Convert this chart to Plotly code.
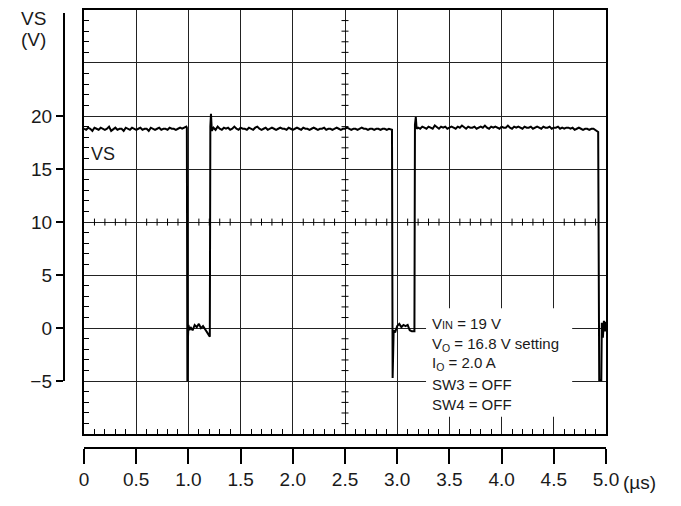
import numpy as np
import plotly.graph_objects as go

# page is 681x506; the html body keeps its default 8px margin
PAGE_W, PAGE_H = 681, 506
OFF = 8
W, H = PAGE_W - 2 * OFF, PAGE_H - 2 * OFF

# ---------------- data ----------------
x_tick_vals = [0, 0.5, 1.0, 1.5, 2.0, 2.5, 3.0, 3.5, 4.0, 4.5, 5.0]
x_tick_text = ["0", "0.5", "1.0", "1.5", "2.0", "2.5", "3.0", "3.5", "4.0", "4.5", "5.0"]
y_tick_vals = [-5, 0, 5, 10, 15, 20]
y_tick_text = ["\u22125", "0", "5", "10", "15", "20"]

# high level segment 1: sampled every 0.02 us from 0.00
hi1_v = [18.8, 18.7, 18.9, 18.8, 18.6, 18.9, 18.8, 18.7, 18.9, 18.8,
         18.7, 18.8, 19.0, 18.6, 18.8, 18.9, 18.7, 18.8, 18.8, 18.6,
         18.9, 18.8, 18.7, 18.9, 18.8, 18.7, 18.8, 18.9, 18.7, 18.8,
         18.8, 18.6, 18.9, 18.8, 18.7, 18.8, 18.9, 18.7, 18.8, 18.8,
         18.7, 18.9, 18.8, 18.8, 18.7, 18.8, 18.9, 18.8, 18.9, 19.0]
edge1_t = [0.985, 0.990, 0.992, 0.996, 1.000, 1.010]
edge1_v = [18.9, -5.0, 2.0, -0.8, 0.3, -0.2]
# low level segment 1: every 0.02 us from 1.02
lo1_v = [0.1, -0.2, 0.3, 0.1, 0.4, 0.0, 0.2, -0.1, -0.3, -0.7]
edge2_t = [1.205, 1.210, 1.216, 1.224]
edge2_v = [-0.8, 19.0, 20.2, 18.6]
# high level segment 2: every 0.02 us from 1.24
hi2_v = [18.9, 18.7, 19.0, 18.8, 18.7, 18.9, 18.8, 18.9, 18.7, 18.8,
         19.0, 18.8, 18.7, 18.9, 18.8, 18.8, 18.7, 18.9, 18.8, 18.7,
         18.9, 19.0, 18.8, 18.7, 18.8, 18.9, 18.7, 18.8, 18.9, 18.8,
         18.7, 18.8, 18.9, 18.8, 18.8, 18.7, 18.9, 18.8, 18.7, 18.8,
         18.9, 18.8, 18.7, 18.9, 18.8, 18.8, 18.7, 18.8, 18.9, 18.8,
         18.7, 18.8, 18.8, 18.9, 18.7, 18.8, 18.8, 18.7, 18.8, 18.9,
         18.8, 18.7, 18.8, 18.8, 18.9, 18.8, 18.7, 18.8, 18.8, 18.7,
         18.8, 18.9, 18.8, 18.8, 18.7, 18.8, 18.8, 18.7, 18.8, 18.8,
         18.7, 18.8, 18.8, 18.7, 18.8, 18.7]
edge3_t = [2.950, 2.956, 2.961, 2.966]
edge3_v = [18.7, -4.7, -0.6, -0.2]
# low level segment 2: every 0.02 us from 2.98
lo2_v = [-0.4, 0.2, 0.4, 0.1, 0.3, 0.2, 0.3, -0.2, -0.3, -0.35]
edge4_t = [3.165, 3.170, 3.178, 3.186]
edge4_v = [-0.3, 19.2, 19.9, 18.8]
# high level segment 3: every 0.02 us from 3.20
hi3_v = [18.9, 18.8, 19.0, 18.9, 18.8, 19.0, 18.9, 18.8, 19.1, 18.9,
         18.8, 19.0, 18.9, 19.0, 18.8, 18.9, 19.0, 18.9, 18.8, 19.0,
         18.9, 19.1, 18.9, 18.8, 19.0, 18.9, 18.9, 19.0, 18.8, 18.9,
         19.0, 18.9, 19.1, 18.9, 18.8, 19.0, 18.9, 19.0, 18.9, 18.8,
         19.0, 18.9, 18.9, 19.1, 18.9, 18.8, 19.0, 18.9, 19.0, 18.9,
         18.8, 19.0, 18.9, 18.9, 19.0, 18.8, 18.9, 19.0, 18.9, 18.8,
         19.0, 18.9, 18.9, 19.0, 18.8, 18.9, 18.9, 19.0, 18.8, 18.9,
         18.8, 18.9, 18.9, 18.8, 18.9, 18.7, 18.8, 18.9, 18.8, 18.7,
         18.8, 18.8, 18.7, 18.8, 18.8, 18.7]
edge5_t = [4.915, 4.925, 4.935, 4.955, 4.960, 4.970, 4.980, 4.990, 5.000]
edge5_v = [18.6, 18.5, -4.9, -4.9, 0.5, -0.9, 0.7, -0.3, 0.6]

note_lines = ["V<span style='font-size:11px'>IN</span> = 19 V",
              "V<sub>O</sub> = 16.8 V setting",
              "I<sub>O</sub> = 2.0 A",
              "SW3 = OFF",
              "SW4 = OFF"]


def grid(start, n, step=0.02):
    return list(np.round(start + step * np.arange(n), 4))


t = (grid(0.0, len(hi1_v)) + edge1_t + grid(1.02, len(lo1_v)) + edge2_t +
     grid(1.24, len(hi2_v)) + edge3_t + grid(2.98, len(lo2_v)) + edge4_t +
     grid(3.20, len(hi3_v)) + edge5_t)
v = hi1_v + edge1_v + lo1_v + edge2_v + hi2_v + edge3_v + lo2_v + edge4_v + hi3_v + edge5_v

minor_x = [round(0.1 * i, 2) for i in range(51) if i % 5 != 0]
minor_y = [i for i in range(-10, 31) if i % 5 != 0]


def fx(px):
    return (px - OFF) / W


def fy(py):
    return 1 - (py - OFF) / H


FONT = "Liberation Sans, Arial, Helvetica, sans-serif"
TXT = "#1a1a1a"

fig = go.Figure()
# centre-line cross ticks
fig.add_trace(go.Scatter(x=minor_x, y=[10] * len(minor_x), mode="markers",
                         marker=dict(symbol="line-ns-open", size=5, color="black",
                                     line=dict(color="black", width=1)),
                         hoverinfo="skip", showlegend=False))
fig.add_trace(go.Scatter(x=[2.5] * len(minor_y), y=minor_y, mode="markers",
                         marker=dict(symbol="line-ew-open", size=5, color="black",
                                     line=dict(color="black", width=1)),
                         hoverinfo="skip", showlegend=False))
# waveform
fig.add_trace(go.Scatter(x=t, y=v, mode="lines",
                         line=dict(color="black", width=2),
                         hoverinfo="skip", showlegend=False))
# dummy trace for the labelled axes
fig.add_trace(go.Scatter(x=[], y=[], xaxis="x2", yaxis="y2",
                         hoverinfo="skip", showlegend=False))

axis_common = dict(showgrid=True, gridcolor="#222", gridwidth=1.2,
                   ticks="", showticklabels=False, showline=True, mirror=True,
                   linecolor="black", linewidth=1.5, zeroline=False,
                   fixedrange=True)

fig.update_layout(
    width=W, height=H,
    margin=dict(l=0, r=0, t=0, b=0),
    paper_bgcolor="white", plot_bgcolor="rgba(0,0,0,0)",
    font=dict(family=FONT, color=TXT),
    xaxis=dict(domain=[fx(81), fx(617.5)], range=[0, 5], dtick=0.5, tick0=0,
               anchor="y",
               minor=dict(dtick=0.1, tick0=0, ticks="inside", ticklen=5,
                          tickcolor="black", tickwidth=1, showgrid=False),
               **axis_common),
    yaxis=dict(domain=[fy(444), fy(10)], range=[-10, 30], dtick=5, tick0=0,
               anchor="x",
               minor=dict(dtick=1, tick0=0, ticks="inside", ticklen=5,
                          tickcolor="black", tickwidth=1, showgrid=False),
               **axis_common),
    xaxis2=dict(domain=[fx(81), fx(617.5)], range=[0, 5], anchor="free",
                position=fy(458), side="bottom",
                tickmode="array", tickvals=x_tick_vals, ticktext=x_tick_text,
                ticks="outside", ticklen=15, tickwidth=1.5, tickcolor="black",
                showline=True, linecolor="black", linewidth=1.5,
                showgrid=False, zeroline=False, fixedrange=True,
                tickfont=dict(size=19, family=FONT, color=TXT)),
    yaxis2=dict(domain=[fy(389.75), fy(13)], range=[-5, 29.72], anchor="free",
                position=fx(60), side="left",
                tickmode="array", tickvals=y_tick_vals, ticktext=y_tick_text,
                ticks="outside", ticklen=7, tickwidth=1.5, tickcolor="black",
                showline=True, linecolor="black", linewidth=1.5,
                showgrid=False, zeroline=False, fixedrange=True,
                tickfont=dict(size=19, family=FONT, color=TXT)),
)

# white box behind the note
fig.add_shape(type="rect", xref="x", yref="y", x0=3.276, x1=4.676, y0=-8.36, y1=1.87,
              fillcolor="white", line=dict(width=0), layer="between")

ann = []
note_y = [0.42, -1.51, -3.38, -5.32, -7.23]
for txt, yy in zip(note_lines, note_y):
    ann.append(dict(x=3.313, y=yy, xref="x", yref="y", text=txt, showarrow=False,
                    xanchor="left", yanchor="middle",
                    font=dict(size=15, family=FONT, color=TXT)))
ann.append(dict(x=0.177, y=16.4, xref="x", yref="y", text="VS", showarrow=False,
                xanchor="center", yanchor="middle",
                font=dict(size=18, family=FONT, color=TXT)))
ann.append(dict(x=fx(29), y=fy(19), xref="paper", yref="paper", text="VS",
                showarrow=False, xanchor="center", yanchor="middle",
                font=dict(size=19, family=FONT, color=TXT)))
ann.append(dict(x=fx(29), y=fy(40), xref="paper", yref="paper", text="(V)",
                showarrow=False, xanchor="center", yanchor="middle",
                font=dict(size=19, family=FONT, color=TXT)))
ann.append(dict(x=fx(671), y=fy(493), xref="paper", yref="paper", text="(\u00b5s)",
                showarrow=False, xanchor="right", yanchor="middle",
                font=dict(size=19, family=FONT, color=TXT)))
fig.update_layout(annotations=ann)

fig.write_html("out.html", config={"displayModeBar": False})
